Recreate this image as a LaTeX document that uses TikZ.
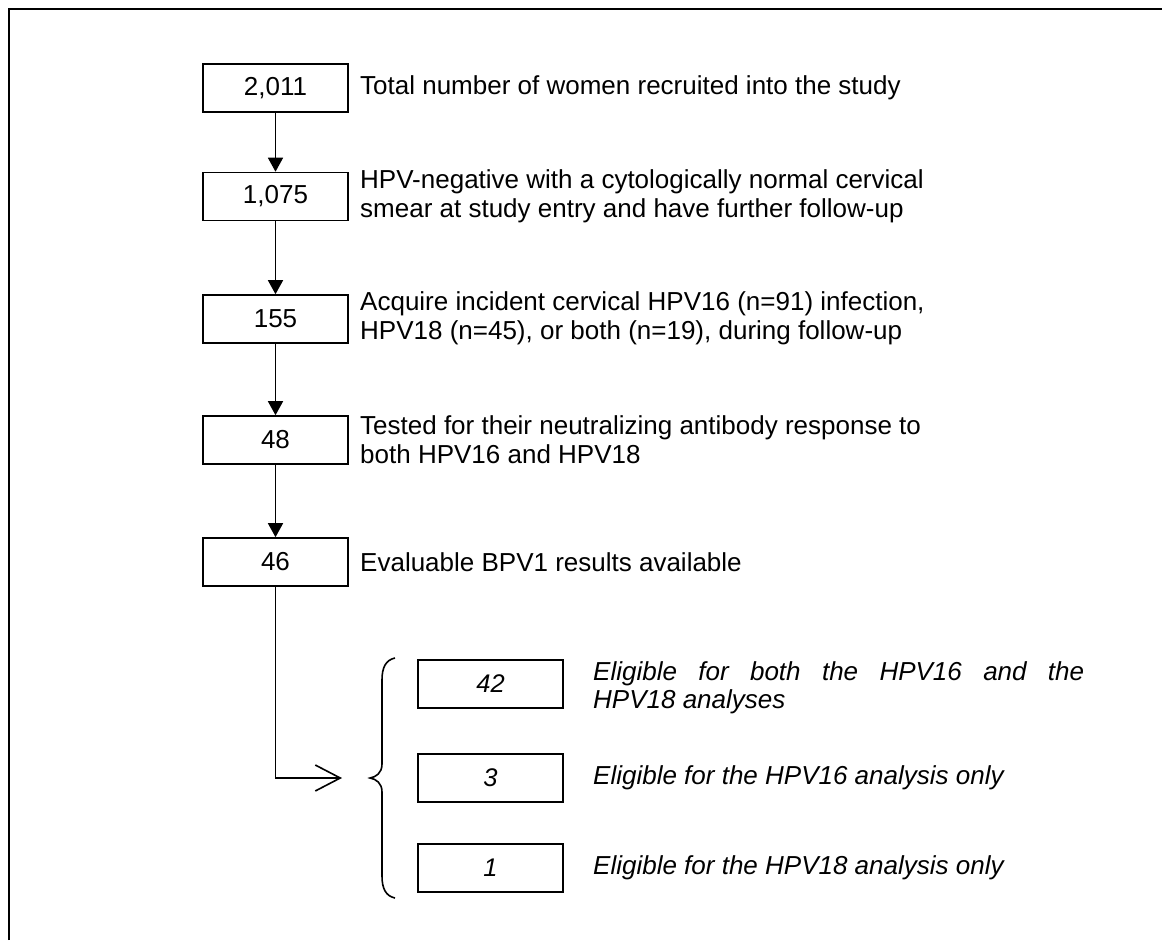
\documentclass[tikz,border=0pt]{standalone}
\usepackage{fontspec}
\setmainfont{Liberation Sans}
\usetikzlibrary{arrows.meta}
\begin{document}
\begin{tikzpicture}[x=1pt,y=-1pt,
  numbox/.style={draw, line width=1.6pt, minimum width=145pt, minimum height=48pt, inner sep=0pt, font=\fontsize{26}{29}\selectfont},
  itbox/.style={numbox, font=\fontsize{25.5}{29}\selectfont\itshape},
  desc/.style={anchor=west, align=left, inner sep=0pt, font=\fontsize{26}{29}\selectfont},
  itdesc/.style={anchor=west, align=left, inner sep=0pt, font=\fontsize{26}{28.5}\selectfont\itshape},
  flow/.style={line width=1.6pt, -{Triangle[length=14pt, width=15pt]}},
  lnk/.style={line width=1.6pt}
]
\useasboundingbox (0,0) rectangle (1162,940);
% frame (top and left sides only)
\draw[line width=2.2pt] (9,940) -- (9,9) -- (1162,9);

% main column
\node[numbox] (b1) at (275.5,88) {2,011};
\node[numbox] (b2) at (275.5,196.5) {1,075};
\node[numbox] (b3) at (275.5,319) {155};
\node[numbox] (b4) at (275.5,440) {48};
\node[numbox] (b5) at (275.5,562) {46};

\node[desc] (t1) at (360,88) {Total number of women recruited into the study};
\node[desc] (t2) at (360,196) {HPV-negative with a cytologically normal cervical\\smear at study entry and have further follow-up};
\node[desc] (t3) at (360,318.5) {Acquire incident cervical HPV16 (n=91) infection,\\HPV18 (n=45), or both (n=19), during follow-up};
\node[desc] (t4) at (360,439.5) {Tested for their neutralizing antibody response to\\both HPV16 and HPV18};
\node[desc] (t5) at (360,562) {Evaluable BPV1 results available};

\draw[flow] (b1) -- (b2);
\draw[flow] (b2) -- (b3);
\draw[flow] (b3) -- (b4);
\draw[flow] (b4) -- (b5);

% lower group
\node[itbox] (c1) at (490.5,684) {42};
\node[itbox] (c2) at (490.5,778) {3};
\node[itbox] (c3) at (490.5,868) {1};

\node[itdesc, align=justify, text width=491pt] (u1) at (593,688) {Eligible for both the HPV16 and the\linebreak HPV18 analyses};
\node[itdesc] (u2) at (593,778) {Eligible for the HPV16 analysis only};
\node[itdesc] (u3) at (593,868) {Eligible for the HPV18 analysis only};

% brace
\draw[lnk] (395,658) .. controls (386,660) and (382,667) .. (382,680) -- (382,764)
  .. controls (382,773) and (376,777) .. (370,778)
  .. controls (376,779) and (382,783) .. (382,792) -- (382,876)
  .. controls (382,889) and (386,896) .. (395,898);

\coordinate (tip) at (342,778);
\draw[lnk, -{Straight Barb[length=25pt, width=26pt, line width=1.6pt]}] (b5.south) |- (tip);
\end{tikzpicture}
\end{document}
